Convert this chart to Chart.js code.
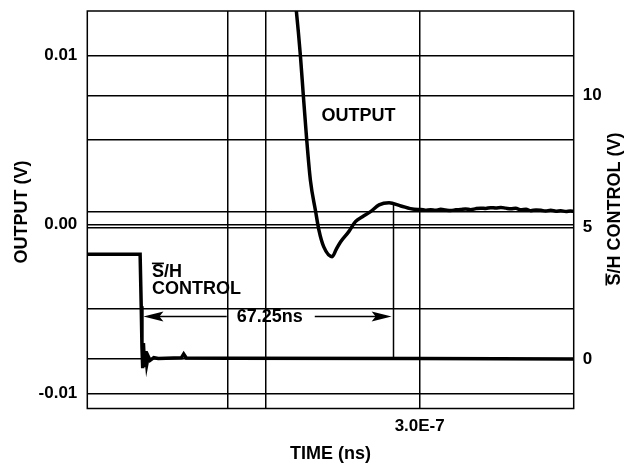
<!DOCTYPE html>
<html>
<head>
<meta charset="utf-8">
<script src="https://cdn.jsdelivr.net/npm/chart.js@4.4.1/dist/chart.umd.min.js"></script>
<style>
  html, body { margin: 0; padding: 0; background: #fff; }
  #wrap { width: 638px; height: 471px; }
</style>
</head>
<body>
<div id="wrap"><canvas id="chart" width="638" height="471"></canvas></div>
<script>
// Output settling trace (time in ns, output in V)
const outTime = [265.9, 266.6, 267.7, 268.5, 269.4, 270.4, 271.8, 272.7, 274.0, 276.3, 277.4, 278.6,
  280.8, 282.6, 284.5, 286.7, 289.0, 291.7, 294.9, 298.5, 300.3, 301.5, 303.0, 304.2, 305.7, 307.0,
  308.4, 309.8, 311.1, 312.4, 313.8, 315.2, 316.5, 317.9, 319.2, 320.6, 322.0, 323.3, 324.7, 326.0,
  327.4, 328.8, 330.1, 331.5, 332.8, 334.1, 335.5, 336.9, 338.2, 339.6, 340.8, 341.7];
const outVolts = [0.0140, 0.01265, 0.0100, 0.00763, 0.00505, 0.00264, 0.00081, -0.00031, -0.0013, -0.00189,
  -0.00146, -0.00101, -0.00041, 0.00018, 0.00047, 0.00077, 0.00117, 0.0013, 0.00111, 0.00091,
  0.00090, 0.00086, 0.00089, 0.00085, 0.00091, 0.00087, 0.00084, 0.00088, 0.00090, 0.00093,
  0.00089, 0.00095, 0.00098, 0.00096, 0.00101, 0.00099, 0.00102, 0.00098, 0.00094, 0.00097,
  0.00088, 0.00091, 0.00083, 0.00087, 0.00085, 0.00081, 0.00086, 0.00080, 0.00083, 0.00078,
  0.00081, 0.00079];

// S/H control trace (time in ns, volts)
const shTime = [210, 224.3, 224.6, 224.8, 225.0, 225.2, 225.5, 225.8, 226.1, 226.5, 227.0, 228.0,
  229.2, 235.5, 236.1, 236.8, 248.2, 300, 341.7];
const shVolts = [3.98, 3.98, 2.0, 0.47, -0.35, 0.6, -0.3, 0.3, -0.2, 0.1, -0.05, 0.05,
  0.02, 0.05, 0.19, 0.04, 0.03, 0.02, 0.0];

// axes
const timeRange = [210, 341.7];
const outRange = [-0.010876, 0.012645];
const shRange = [-1.88, 13.217];
const timeGrid = [248.1, 258.4, 300];
const timeLabels = { 300: '3.0E-7' };
const outGrid = [-0.01, -0.005, 0, 0.00079, 0.005, 0.01];
const outLabels = { '-0.01': '-0.01', '0': '0.00', '0.01': '0.01' };
const shGrid = [0, 5, 10];
const shLabels = { 0: '0', 5: '5', 10: '10' };

// annotations
const settleTime = 292.9;
const settleTop = 5.92;
const arrowStart = 225.2;
const arrowEnd = 292.4;
const arrowLevel = 1.65;
const arrowText = '67.25ns';
const arrowTextAt = 259.4;

const FONT = '"Liberation Sans", Arial, Helvetica, sans-serif';

function pts(xs, ys) {
  return xs.map((x, i) => ({ x: x, y: ys[i] }));
}

// no extra label padding round the plot box
function noPad(s) {
  s.paddingTop = 0; s.paddingBottom = 0; s.paddingLeft = 0; s.paddingRight = 0;
}

const annot = {
  id: 'annot',
  beforeDatasetsDraw(chart) {
    const { ctx, scales: { x, y2 } } = chart;
    ctx.save();
    ctx.strokeStyle = '#000';
    ctx.lineWidth = 1.5;
    const sx = Math.round(x.getPixelForValue(settleTime)) + 0.5;
    ctx.beginPath();
    ctx.moveTo(sx, y2.getPixelForValue(0));
    ctx.lineTo(sx, y2.getPixelForValue(settleTop));
    ctx.stroke();
    ctx.restore();
  },
  afterDraw(chart) {
    const { ctx, chartArea: a, scales: { x, y, y2 } } = chart;
    ctx.save();
    ctx.strokeStyle = '#000';
    ctx.fillStyle = '#000';
    ctx.lineWidth = 1.5;
    ctx.strokeRect(a.left, a.top, a.right - a.left, a.bottom - a.top);

    // arrow with label
    ctx.font = 'bold 18px ' + FONT;
    ctx.textAlign = 'center';
    ctx.textBaseline = 'middle';
    const ay = Math.round(y2.getPixelForValue(arrowLevel)) + 0.5;
    const tx = x.getPixelForValue(arrowTextAt);
    const tw = ctx.measureText(arrowText).width;
    ctx.fillText(arrowText, tx, ay + 1);
    const x0 = x.getPixelForValue(arrowStart);
    const x1 = x.getPixelForValue(arrowEnd);
    ctx.beginPath();
    ctx.moveTo(x0 + 10, ay); ctx.lineTo(tx - tw / 2 - 10, ay);
    ctx.moveTo(tx + tw / 2 + 12, ay); ctx.lineTo(x1 - 10, ay);
    ctx.stroke();
    [[x0, 1], [x1, -1]].forEach(([px, d]) => {
      ctx.beginPath();
      ctx.moveTo(px, ay);
      ctx.lineTo(px + d * 20, ay - 5);
      ctx.lineTo(px + d * 16, ay);
      ctx.lineTo(px + d * 20, ay + 5);
      ctx.closePath();
      ctx.fill();
    });

    // in-plot labels
    ctx.textAlign = 'left';
    ctx.fillText('OUTPUT', x.getPixelForValue(273.4), y.getPixelForValue(0.00643));
    const lx = x.getPixelForValue(227.5);
    const ly = y2.getPixelForValue(3.32);
    ctx.fillText('S/H', lx, ly);
    ctx.fillText('CONTROL', lx, y2.getPixelForValue(2.64));
    const sw = ctx.measureText('S').width;
    ctx.fillRect(lx, ly - 9, sw, 1.6);

    // axis titles
    ctx.textAlign = 'center';
    ctx.fillText('TIME (ns)', (a.left + a.right) / 2, 454);

    ctx.save();
    ctx.translate(22, 212);
    ctx.rotate(-Math.PI / 2);
    ctx.fillText('OUTPUT (V)', 0, 0);
    ctx.restore();

    ctx.save();
    ctx.translate(615, 209);
    ctx.rotate(-Math.PI / 2);
    const rt = 'S/H CONTROL (V)';
    ctx.fillText(rt, 0, 0);
    const rw = ctx.measureText(rt).width;
    ctx.fillRect(-rw / 2, -9.5, sw, 1.6);
    ctx.restore();

    ctx.restore();
  }
};

const tickFont = { family: FONT, size: 17, weight: 'bold' };
const gridStyle = { color: '#000', lineWidth: 1.5, drawTicks: false };

new Chart(document.getElementById('chart'), {
  type: 'line',
  data: {
    datasets: [
      {
        label: 'OUTPUT',
        data: pts(outTime, outVolts),
        yAxisID: 'y',
        borderColor: '#000',
        borderWidth: 3.5,
        pointRadius: 0,
        cubicInterpolationMode: 'monotone',
        fill: false
      },
      {
        label: 'S/H CONTROL',
        data: pts(shTime, shVolts),
        yAxisID: 'y2',
        borderColor: '#000',
        borderWidth: 3.5,
        pointRadius: 0,
        tension: 0,
        fill: false
      }
    ]
  },
  options: {
    responsive: false,
    animation: false,
    devicePixelRatio: 1,
    layout: { padding: { top: 11, left: 0, right: 0, bottom: 0 } },
    plugins: { legend: { display: false }, tooltip: { enabled: false } },
    scales: {
      x: {
        type: 'linear',
        min: timeRange[0], max: timeRange[1],
        grid: gridStyle,
        border: { display: false },
        afterBuildTicks: s => { s.ticks = timeGrid.map(v => ({ value: v })); },
        afterFit: s => { s.height = 62.5; noPad(s); },
        ticks: {
          font: tickFont, color: '#000', padding: 8, maxRotation: 0, autoSkip: false,
          callback: v => timeLabels[v] || ''
        }
      },
      y: {
        type: 'linear', position: 'left',
        min: outRange[0], max: outRange[1],
        grid: gridStyle,
        border: { display: false },
        afterBuildTicks: s => { s.ticks = outGrid.map(v => ({ value: v })); },
        afterFit: s => { s.width = 87.3; noPad(s); },
        ticks: {
          font: tickFont, color: '#000', padding: 10, autoSkip: false,
          callback: v => outLabels[String(v)] || ''
        }
      },
      y2: {
        type: 'linear', position: 'right',
        min: shRange[0], max: shRange[1],
        grid: gridStyle,
        border: { display: false },
        afterBuildTicks: s => { s.ticks = shGrid.map(v => ({ value: v })); },
        afterFit: s => { s.width = 64.3; noPad(s); },
        ticks: {
          font: tickFont, color: '#000', padding: 9, autoSkip: false,
          callback: v => shLabels[v] || ''
        }
      }
    }
  },
  plugins: [annot]
});
</script>
</body>
</html>
